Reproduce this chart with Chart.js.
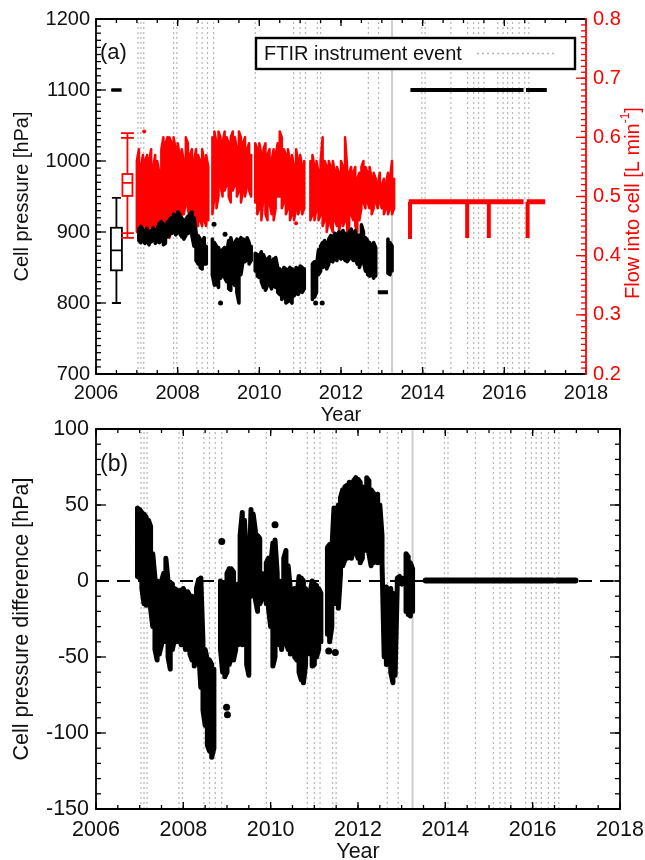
<!DOCTYPE html>
<html><head><meta charset="utf-8">
<script src="https://cdn.jsdelivr.net/npm/chart.js@4.4.1/dist/chart.umd.min.js"></script>
<style>
html,body{margin:0;padding:0;background:#fff;}
#wrap{position:relative;width:645px;height:860px;overflow:hidden;background:#fff;}
#cb{position:absolute;left:0;top:420px;}
#ca{position:absolute;left:0;top:0;}
</style></head><body>
<div id="wrap"><canvas id="cb" width="645" height="440"></canvas><canvas id="ca" width="645" height="430"></canvas></div>
<script>
// ---------------- DATA ----------------
const yearTicks = [2006, 2008, 2010, 2012, 2014, 2016, 2018];
const pressureTicks = [700, 800, 900, 1000, 1100, 1200];
const flowTicks = [0.2, 0.3, 0.4, 0.5, 0.6, 0.7, 0.8];
const diffTicks = [-150, -100, -50, 0, 50, 100];

const sampleYears = [
 2006.95,
 2007.00,2007.05,2007.10,2007.15,2007.20,2007.25,2007.30,2007.35,2007.40,2007.45,2007.50,2007.55,2007.60,2007.65,2007.70,2007.75,2007.80,2007.85,2007.90,2007.95,
 2008.00,2008.05,2008.10,2008.15,2008.20,2008.25,2008.30,2008.35,2008.40,2008.45,2008.50,2008.55,2008.60,2008.65,2008.70,2008.75,2008.80,2008.85,2008.90,2008.95,
 2009.00,2009.05,2009.10,2009.15,2009.20,2009.25,2009.30,2009.35,2009.40,2009.45,2009.50,2009.55,2009.60,2009.65,2009.70,2009.75,2009.80,2009.85,2009.90,2009.95,
 2010.00,2010.05,2010.10,2010.15,2010.20,2010.25,2010.30,2010.35,2010.40,2010.45,2010.50,2010.55,2010.60,2010.65,2010.70,2010.75,2010.80,2010.85,2010.90,2010.95,
 2011.00,2011.05,2011.10,2011.15,2011.20,2011.25,2011.30,2011.35,2011.40,2011.45,2011.50,2011.55,2011.60,2011.65,2011.70,2011.75,2011.80,2011.85,2011.90,2011.95,
 2012.00,2012.05,2012.10,2012.15,2012.20,2012.25,2012.30,2012.35,2012.40,2012.45,2012.50,2012.55,2012.60,2012.65,2012.70,2012.75,2012.80,2012.85,2012.90,2012.95,
 2013.00,2013.05,2013.10,2013.15,2013.20,2013.25,2013.30
];

// Cell pressure (hPa), upper / lower envelope per sample
const pressureHi = [
 null,
 null,905,908,903,900,905,898,902,906,900,904,912,915,910,908,914,918,920,925,922,
 928,925,920,915,918,922,925,928,920,900,895,890,885,892,880,null,null,890,885,880,
 878,870,875,878,870,888,892,880,885,890,885,892,890,888,892,885,880,null,870,868,
 866,872,868,860,862,865,858,862,864,850,848,845,850,848,845,850,848,845,850,848,
 852,850,848,null,null,null,855,858,852,875,880,885,888,882,890,895,892,898,895,900,
 898,902,898,895,900,904,898,902,896,895,910,900,892,888,885,880,885,878,null,null,
 null,null,null,890,885,880,null
];
const pressureLo = [
 null,
 null,888,885,890,884,888,882,886,890,884,888,885,890,882,884,893,895,898,900,896,
 900,898,893,890,895,898,900,895,880,860,855,850,848,855,855,null,null,840,825,830,
 822,835,840,836,830,820,818,830,825,815,800,840,860,858,862,855,860,null,845,838,
 836,830,822,818,825,828,820,825,822,815,812,805,810,800,802,805,800,810,815,812,
 818,815,820,null,null,null,805,808,815,840,845,850,852,848,855,860,858,862,860,865,
 862,865,860,858,862,865,860,862,855,850,860,858,845,840,838,842,835,838,null,null,
 null,null,null,842,840,845,null
];

// Flow into cell (L/min), upper / lower envelope per sample
const flowHi = [
 null,
 0.56,0.58,0.55,0.57,0.56,0.57,0.56,0.58,0.55,0.57,0.56,0.54,0.58,0.60,0.59,0.60,0.60,0.59,0.60,0.58,
 0.59,0.57,0.58,0.56,0.60,0.59,0.57,0.58,0.56,0.58,0.57,0.56,0.58,0.56,0.57,0.55,null,0.60,0.61,0.59,
 0.61,0.60,0.59,0.61,0.60,0.59,0.60,0.61,0.60,0.58,0.61,0.60,0.59,0.60,0.58,0.59,0.57,null,0.59,0.58,
 0.59,0.57,0.58,0.59,0.57,0.58,0.56,0.58,0.57,0.59,0.61,0.60,0.58,0.57,0.58,0.56,0.57,0.55,0.58,0.56,
 0.57,0.55,0.56,null,null,0.56,0.57,0.55,0.56,0.54,0.56,0.60,0.56,0.55,0.56,0.55,0.56,0.54,0.55,0.54,
 0.56,0.55,0.60,0.55,0.54,0.55,0.54,0.55,0.53,0.54,0.55,0.56,0.55,0.54,0.55,0.53,0.54,0.53,0.52,0.54,
 0.52,0.53,0.52,0.54,0.53,0.56,0.53
];
const flowLo = [
 null,
 0.44,0.43,0.44,0.43,0.45,0.44,0.43,0.45,0.44,0.43,0.45,0.46,0.45,0.44,0.45,0.44,0.43,0.45,0.46,0.46,
 0.48,0.47,0.46,0.47,0.49,0.48,0.46,0.45,0.46,0.45,0.45,0.46,0.45,0.46,0.45,0.46,null,0.47,0.50,0.48,
 0.50,0.52,0.50,0.51,0.52,0.50,0.49,0.51,0.52,0.50,0.51,0.49,0.51,0.50,0.52,0.51,0.50,null,0.49,0.47,
 0.48,0.46,0.50,0.47,0.46,0.49,0.47,0.46,0.48,0.50,0.50,0.48,0.49,0.47,0.48,0.46,0.47,0.46,0.48,0.47,
 0.48,0.47,0.48,null,null,0.46,0.47,0.46,0.48,0.46,0.47,0.45,0.46,0.44,0.46,0.45,0.44,0.46,0.45,0.44,
 0.46,0.45,0.46,0.44,0.45,0.47,0.46,0.45,0.44,0.46,0.48,0.49,0.48,0.49,0.48,0.47,0.48,0.49,0.48,0.49,
 0.48,0.47,0.48,0.47,0.48,0.47,0.48
];

// Cell pressure difference (hPa), upper / lower envelope per sample
const diffHi = [
 48,
 47,45,44,42,40,36,18,2,0,-2,0,5,15,0,-1,-2,-5,-6,-8,-6,
 -5,-8,-7,-10,-10,-12,-5,1,2,-40,-45,-52,-52,-55,-58,null,null,0,-2,-5,
 5,8,8,6,-3,-2,30,45,40,10,-2,47,44,33,30,28,5,null,12,15,
 10,25,27,5,0,-2,15,20,10,-5,-8,-5,-10,3,2,0,-5,-10,-8,0,
 -2,-3,-5,-8,null,null,22,24,20,48,45,50,55,60,62,63,65,62,66,68,
 67,65,62,58,68,66,60,58,55,57,50,30,-5,-4,-6,-5,-8,-10,2,3,
 2,null,18,16,12,8,null
];
const diffLo = [
 3,
 2,-5,-15,-16,-14,-18,-30,-45,-52,-48,-42,-40,-38,-50,-58,-45,-38,-40,-38,-42,
 -38,-45,-40,-48,-52,-56,-50,-45,-70,-85,-95,-108,-112,-116,-110,null,null,-45,-60,-63,
 -60,-55,-50,-52,-45,-42,-40,-42,-30,-55,-62,-10,-5,-12,-20,-15,-12,null,-15,-18,
 -30,-56,-50,-40,-42,-45,-35,-40,-45,-48,-45,-50,-52,-60,-65,-67,-55,-45,-48,-56,
 -55,-50,-45,-40,null,null,-35,-40,-30,-15,-10,-18,5,10,14,15,18,15,20,22,
 15,12,15,20,25,18,10,12,14,12,15,12,-50,-55,-52,-60,-67,-62,-2,-1,
 -2,null,-20,-22,-23,-20,null
];

// isolated points
const pressureDotYears = [2008.89, 2009.16, 2009.05, 2011.38, 2011.54];
const pressureDotValues = [911, 897, 800, 800, 800];
const flowDotYears = [2007.18, 2009.10, 2010.90];
const flowDotValues = [0.61, 0.51, 0.455];
const diffDotYears = [2008.88, 2008.99, 2009.01, 2010.10, 2011.33, 2011.48, 2012.92];
const diffDotValues = [26, -83, -88, 37, -46, -47, 0];

// short constant runs
const pressureRunStart = [2012.90, 2013.70, 2016.53];
const pressureRunEnd   = [2013.15, 2016.47, 2017.04];
const pressureRunValue = [815, 1100, 1100];
const flowRunStart = [2013.66, 2016.55];
const flowRunEnd   = [2016.47, 2017.00];
const flowRunValue = [0.491, 0.491];
const flowDipYears = [2013.69, 2015.09, 2015.62, 2016.57];
const flowDipMin   = [0.428, 0.430, 0.430, 0.430];
const diffRunStart = [2013.55, 2016.55];
const diffRunEnd   = [2016.46, 2016.98];
const diffRunValue = [0.3, 0.3];

// box-and-whisker summaries (left of the time series)
const pressureBoxYear = 2006.50;
const pressureBoxCaps = [800, 948];
const pressureBoxQ1 = 846, pressureBoxMedian = 874, pressureBoxQ3 = 906;
const pressureBox2Stats = [1100, 1100, 1100];   // q1, median, q3 of late period
const flowBoxYear = 2006.77;
const flowBoxCaps = [0.430, 0.438, 0.599, 0.607];
const flowBoxQ1 = 0.501, flowBoxMedian = 0.523, flowBoxQ3 = 0.538;

// FTIR instrument events
const eventYears = [2007.03, 2007.10, 2007.17, 2007.90, 2007.98, 2008.47, 2008.60, 2008.73, 2008.88,
  2009.90, 2010.84, 2011.00, 2011.13, 2011.42, 2011.50, 2012.67, 2012.92, 2013.98, 2014.06, 2014.69,
  2015.10, 2015.25, 2015.37, 2015.50, 2015.84, 2015.97, 2016.08, 2016.20, 2016.36, 2016.50, 2016.60];
const eventSolidYear = [2013.25];

// ---------------- HELPERS ----------------
function zigzag(t, hi, lo) {
  const pts = [];
  for (let i = 0; i < t.length; i++) {
    if (hi[i] == null) { pts.push({ x: t[i], y: null }); continue; }
    if (i % 2 === 0) pts.push({ x: t[i], y: hi[i] }, { x: t[i], y: lo[i] });
    else pts.push({ x: t[i], y: lo[i] }, { x: t[i], y: hi[i] });
  }
  return pts;
}
function runs(s, e, v) {
  const pts = [];
  for (let i = 0; i < s.length; i++) pts.push({ x: s[i], y: v[i] }, { x: e[i], y: v[i] }, { x: e[i], y: null });
  return pts;
}
function verticals(xs, lo, hi) {
  const pts = [];
  for (let i = 0; i < xs.length; i++) {
    const a = Array.isArray(lo) ? lo[i] : lo, b = Array.isArray(hi) ? hi[i] : hi;
    pts.push({ x: xs[i], y: a }, { x: xs[i], y: b }, { x: xs[i], y: null });
  }
  return pts;
}
function pts(xs, ys) { return xs.map((x, i) => ({ x, y: ys[i] })); }

Chart.defaults.font.family = "'Liberation Sans', Arial, Helvetica, sans-serif";
Chart.defaults.color = '#111';

// axis frame + inward tick marks
const axisDecor = {
  id: 'axisDecor',
  afterDatasetsDraw(chart, args, opts) {
    const ctx = chart.ctx, a = chart.chartArea;
    ctx.save();
    ctx.lineCap = 'butt';
    for (const t of opts.ticks) {
      const s = chart.scales[t.scale];
      ctx.strokeStyle = t.color; ctx.lineWidth = 1.3;
      const draw = (v, len) => {
        for (const side of t.sides) {
          ctx.beginPath();
          if (side === 'left') { const y = s.getPixelForValue(v); ctx.moveTo(a.left, y); ctx.lineTo(a.left + len, y); }
          if (side === 'right') { const y = s.getPixelForValue(v); ctx.moveTo(a.right, y); ctx.lineTo(a.right - len, y); }
          if (side === 'bottom') { const x = s.getPixelForValue(v); ctx.moveTo(x, a.bottom); ctx.lineTo(x, a.bottom - len); }
          if (side === 'top') { const x = s.getPixelForValue(v); ctx.moveTo(x, a.top); ctx.lineTo(x, a.top + len); }
          ctx.stroke();
        }
      };
      const n = Math.round((s.max - s.min) / t.minor);
      for (let i = 0; i <= n; i++) draw(s.min + i * t.minor, t.minorLen);
      for (const v of t.major) draw(v, t.majorLen);
    }
    ctx.lineWidth = 1.8;
    for (const f of opts.frame) {
      ctx.strokeStyle = f.color; ctx.beginPath();
      if (f.side === 'left') { ctx.moveTo(a.left, a.top - 0.9); ctx.lineTo(a.left, a.bottom + 0.9); }
      if (f.side === 'right') { ctx.moveTo(a.right, a.top - 0.9); ctx.lineTo(a.right, a.bottom + 0.9); }
      if (f.side === 'top') { ctx.moveTo(a.left, a.top); ctx.lineTo(a.right, a.top); }
      if (f.side === 'bottom') { ctx.moveTo(a.left, a.bottom); ctx.lineTo(a.right, a.bottom); }
      ctx.stroke();
    }
    ctx.restore();
  }
};

const boxPlot = {
  id: 'boxPlot',
  afterDatasetsDraw(chart, args, opts) {
    const ctx = chart.ctx, xs = chart.scales.x;
    for (const b of (opts.boxes || [])) {
      const ys = chart.scales[b.scale];
      const Y = v => ys.getPixelForValue(v);
      const cx = xs.getPixelForValue(b.year);
      const hw = b.boxW / 2, cw = b.capW / 2;
      ctx.save(); ctx.strokeStyle = b.color; ctx.lineWidth = b.lw;
      ctx.beginPath();
      if (b.caps.length) {
        ctx.moveTo(cx, Y(b.caps[0])); ctx.lineTo(cx, Y(b.q1));
        ctx.moveTo(cx, Y(b.q3)); ctx.lineTo(cx, Y(b.caps[b.caps.length - 1]));
        for (const c of b.caps) { ctx.moveTo(cx - cw, Y(c)); ctx.lineTo(cx + cw, Y(c)); }
      }
      ctx.moveTo(cx - hw, Y(b.median)); ctx.lineTo(cx + hw, Y(b.median));
      ctx.stroke();
      ctx.strokeRect(cx - hw, Y(b.q3), 2 * hw, Y(b.q1) - Y(b.q3));
      ctx.restore();
    }
  }
};

const annot = {
  id: 'annot',
  afterDraw(chart, args, opts) {
    const ctx = chart.ctx;
    ctx.save();
    const ff = Chart.defaults.font.family;
    if (opts.panel) {
      ctx.fillStyle = '#111'; ctx.font = opts.panel.size + 'px ' + ff;
      ctx.textBaseline = 'middle'; ctx.textAlign = 'left';
      ctx.fillText(opts.panel.text, opts.panel.x, opts.panel.y);
    }
    if (opts.legend) {
      const L = opts.legend;
      ctx.fillStyle = '#fff'; ctx.fillRect(L.x, L.y, L.w, L.h);
      ctx.strokeStyle = '#000'; ctx.lineWidth = 2.4; ctx.strokeRect(L.x, L.y, L.w, L.h);
      ctx.fillStyle = '#111'; ctx.font = L.size + 'px ' + ff; ctx.textBaseline = 'middle'; ctx.textAlign = 'left';
      ctx.fillText(L.text, L.x + 8, L.y + L.h / 2 + 1);
      ctx.strokeStyle = '#b5b5b5'; ctx.lineWidth = 1.3; ctx.setLineDash([2, 3]);
      ctx.beginPath(); ctx.moveTo(L.sx0, L.y + L.h / 2); ctx.lineTo(L.sx1, L.y + L.h / 2); ctx.stroke();
      ctx.setLineDash([]);
    }
    if (opts.rightTitle) {
      const R = opts.rightTitle;
      ctx.translate(R.x, R.y); ctx.rotate(-Math.PI / 2);
      ctx.fillStyle = R.color; ctx.textBaseline = 'middle';
      const f1 = R.size + 'px ' + ff, f2 = Math.round(R.size * 0.62) + 'px ' + ff;
      ctx.font = f1; const w1 = ctx.measureText(R.main).width, w3 = ctx.measureText(R.close).width;
      ctx.font = f2; const w2 = ctx.measureText(R.sup).width;
      let x0 = -(w1 + w2 + w3) / 2;
      ctx.textAlign = 'left';
      ctx.font = f1; ctx.fillText(R.main, x0, 0);
      ctx.font = f2; ctx.fillText(R.sup, x0 + w1, -R.size * 0.38);
      ctx.font = f1; ctx.fillText(R.close, x0 + w1 + w2, 0);
    }
    ctx.restore();
  }
};

function xScale(size, height, labelPad, titlePad) {
  return {
    type: 'linear', min: 2006, max: 2018, position: 'bottom',
    grid: { display: false, drawTicks: false }, border: { display: false },
    afterBuildTicks: s => { s.ticks = yearTicks.map(v => ({ value: v })); },
    afterFit: s => { s.height = height; s.paddingLeft = 0; s.paddingRight = 0; },
    ticks: { font: { size: size }, color: '#111', padding: labelPad, maxRotation: 0, minRotation: 0, autoSkip: false, callback: v => String(v) },
    title: { display: true, text: 'Year', font: { size: size }, color: '#111', padding: { top: 0, bottom: titlePad } }
  };
}
function yScale(min, max, tickArr, pos, size, width, labelPad, color, fmt, title, titlePad) {
  return {
    type: 'linear', min: min, max: max, position: pos,
    grid: { display: false, drawTicks: false }, border: { display: false },
    afterBuildTicks: s => { s.ticks = tickArr.map(v => ({ value: v })); },
    afterFit: s => { s.width = width; s.paddingTop = 0; s.paddingBottom = 0; },
    ticks: { font: { size: size }, color: color, padding: labelPad, autoSkip: false, callback: fmt },
    title: title ? { display: true, text: title, font: { size: size }, color: '#111', padding: { top: titlePad, bottom: 0 } } : { display: false }
  };
}
const lineBase = { pointRadius: 0, tension: 0, fill: false, spanGaps: false, borderJoinStyle: 'round', borderCapStyle: 'round' };

// ---------------- PANEL (a) ----------------
new Chart(document.getElementById('ca'), {
  type: 'line',
  data: {
    datasets: [
      Object.assign({}, lineBase, { label: 'FTIR instrument event', data: verticals(eventYears, 700, 1200), yAxisID: 'y', borderColor: '#b5b5b5', borderWidth: 1.2, borderDash: [2, 3], borderCapStyle: 'butt', order: 20 }),
      Object.assign({}, lineBase, { label: 'event (major)', data: verticals(eventSolidYear, 700, 1200), yAxisID: 'y', borderColor: '#cfcfcf', borderWidth: 2, order: 19 }),
      Object.assign({}, lineBase, { label: 'Flow into cell', data: zigzag(sampleYears, flowHi, flowLo), yAxisID: 'y1', borderColor: '#ff0000', borderWidth: 2.5, order: 6 }),
      Object.assign({}, lineBase, { label: 'Flow (late)', data: runs(flowRunStart, flowRunEnd, flowRunValue), yAxisID: 'y1', borderColor: '#ff0000', borderWidth: 5, borderCapStyle: 'butt', order: 6 }),
      Object.assign({}, lineBase, { label: 'Flow dips', data: verticals(flowDipYears, flowDipMin, flowRunValue[0]), yAxisID: 'y1', borderColor: '#ff0000', borderWidth: 4, borderCapStyle: 'butt', order: 6 }),
      { type: 'scatter', label: 'Flow points', data: pts(flowDotYears, flowDotValues), yAxisID: 'y1', pointRadius: 2, pointBackgroundColor: '#ff0000', pointBorderWidth: 0, order: 6 },
      Object.assign({}, lineBase, { label: 'Cell pressure', data: zigzag(sampleYears, pressureHi, pressureLo), yAxisID: 'y', borderColor: '#000', borderWidth: 3.6, order: 2 }),
      Object.assign({}, lineBase, { label: 'Cell pressure (runs)', data: runs(pressureRunStart, pressureRunEnd, pressureRunValue), yAxisID: 'y', borderColor: '#000', borderWidth: 4, borderCapStyle: 'butt', order: 2 }),
      { type: 'scatter', label: 'Cell pressure points', data: pts(pressureDotYears, pressureDotValues), yAxisID: 'y', pointRadius: 2.5, pointBackgroundColor: '#000', pointBorderWidth: 0, order: 2 }
    ]
  },
  options: {
    responsive: false, animation: false, devicePixelRatio: 1,
    layout: { padding: { top: 19, left: 0, right: 0, bottom: 0 } },
    events: [],
    plugins: {
      legend: { display: false }, tooltip: { enabled: false },
      axisDecor: {
        frame: [{ side: 'left', color: '#000' }, { side: 'top', color: '#000' }, { side: 'bottom', color: '#000' }, { side: 'right', color: '#ff0000' }],
        ticks: [
          { scale: 'x', sides: ['bottom', 'top'], major: yearTicks, minor: 0.5, majorLen: 7, minorLen: 4, color: '#000' },
          { scale: 'y', sides: ['left'], major: pressureTicks, minor: 10, majorLen: 10, minorLen: 5, color: '#000' },
          { scale: 'y1', sides: ['right'], major: flowTicks, minor: 0.01, majorLen: 10, minorLen: 5, color: '#ff0000' }
        ]
      },
      boxPlot: {
        boxes: [
          { scale: 'y', year: pressureBoxYear, caps: pressureBoxCaps, q1: pressureBoxQ1, median: pressureBoxMedian, q3: pressureBoxQ3, boxW: 11, capW: 9, lw: 1.8, color: '#000' },
          { scale: 'y', year: pressureBoxYear, caps: [], q1: pressureBox2Stats[0], median: pressureBox2Stats[1], q3: pressureBox2Stats[2], boxW: 10, capW: 0, lw: 3, color: '#000' },
          { scale: 'y1', year: flowBoxYear, caps: flowBoxCaps, q1: flowBoxQ1, median: flowBoxMedian, q3: flowBoxQ3, boxW: 10, capW: 13, lw: 1.8, color: '#ff0000' }
        ]
      },
      annot: {
        panel: { text: '(a)', x: 100, y: 53, size: 22 },
        legend: { text: 'FTIR instrument event', x: 256, y: 38, w: 319, h: 31, size: 20, sx0: 477, sx1: 557 },
        rightTitle: { main: 'Flow into cell [L min', sup: '-1', close: ']', x: 633, y: 203, size: 20, color: '#ff0000' }
      }
    },
    scales: {
      x: xScale(20, 56, 7, 3),
      y: yScale(700, 1200, pressureTicks, 'left', 20, 96, 6, '#111', v => String(v), 'Cell pressure [hPa]', 10),
      y1: yScale(0.2, 0.8, flowTicks, 'right', 20, 59, 7, '#ff0000', v => v.toFixed(1), null, 0)
    }
  },
  plugins: [axisDecor, boxPlot, annot]
});

// ---------------- PANEL (b) ----------------
new Chart(document.getElementById('cb'), {
  type: 'line',
  data: {
    datasets: [
      Object.assign({}, lineBase, { label: 'FTIR instrument event', data: verticals(eventYears, -150, 100), borderColor: '#b5b5b5', borderWidth: 1.2, borderDash: [2, 3], borderCapStyle: 'butt', order: 20 }),
      Object.assign({}, lineBase, { label: 'event (major)', data: verticals(eventSolidYear, -150, 100), borderColor: '#cfcfcf', borderWidth: 2, order: 19 }),
      Object.assign({}, lineBase, { label: 'zero', data: runs([2006], [2018], [0]), borderColor: '#000', borderWidth: 2, borderDash: [13, 8], borderCapStyle: 'butt', order: 10 }),
      Object.assign({}, lineBase, { label: 'Cell pressure difference', data: zigzag(sampleYears, diffHi, diffLo), borderColor: '#000', borderWidth: 5, order: 2 }),
      Object.assign({}, lineBase, { label: 'Cell pressure difference (late)', data: runs(diffRunStart, diffRunEnd, diffRunValue), borderColor: '#000', borderWidth: 6, order: 2 }),
      { type: 'scatter', label: 'points', data: pts(diffDotYears, diffDotValues), pointRadius: 3.5, pointBackgroundColor: '#000', pointBorderWidth: 0, order: 2 }
    ]
  },
  options: {
    responsive: false, animation: false, devicePixelRatio: 1,
    layout: { padding: { top: 9, left: 0, right: 25, bottom: 0 } },
    events: [],
    plugins: {
      legend: { display: false }, tooltip: { enabled: false },
      axisDecor: {
        frame: [{ side: 'left', color: '#000' }, { side: 'top', color: '#000' }, { side: 'bottom', color: '#000' }, { side: 'right', color: '#000' }],
        ticks: [
          { scale: 'x', sides: ['bottom', 'top'], major: yearTicks, minor: 0.5, majorLen: 7, minorLen: 4, color: '#000' },
          { scale: 'y', sides: ['left', 'right'], major: diffTicks, minor: 10, majorLen: 10, minorLen: 5, color: '#000' }
        ]
      },
      annot: { panel: { text: '(b)', x: 100, y: 45, size: 23 } }
    },
    scales: {
      x: xScale(21.5, 51, 8, -5),
      y: yScale(-150, 100, diffTicks, 'left', 21.5, 96, 7, '#111', v => String(v), 'Cell pressure difference [hPa]', 9.5)
    }
  },
  plugins: [axisDecor, annot]
});
</script></body></html>
